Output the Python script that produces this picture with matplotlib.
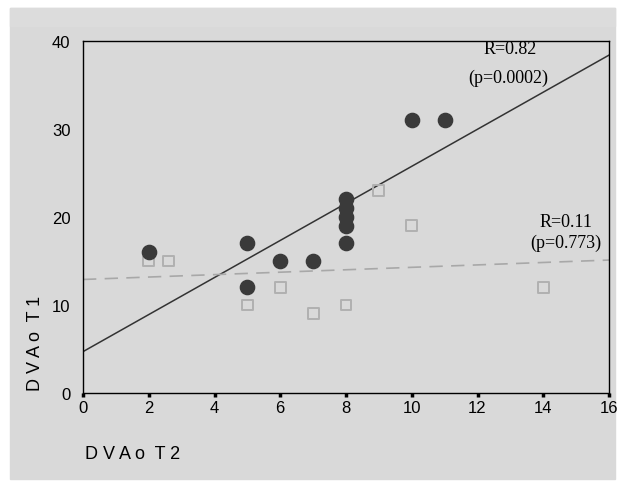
import matplotlib.pyplot as plt
from matplotlib.patches import Rectangle
import numpy as np

# filled circles
circ_x = [2, 5, 5, 6, 7, 8, 8, 8, 8, 8, 10, 11]
circ_y = [16, 17, 12, 15, 15, 22, 21, 20, 19, 17, 31, 31]
# open squares
sq_x = [2, 2.6, 5, 6, 7, 8, 9, 10, 14]
sq_y = [15, 15, 10, 12, 9, 10, 23, 19, 12]

# regression lines
solid_b, solid_a = 4.7, 2.106
dash_b, dash_a = 12.9, 0.138

xticks = [0, 2, 4, 6, 8, 10, 12, 14, 16]
yticks = [0, 10, 20, 30, 40]

bg = '#d9d9d9'
narrow = ['Liberation Sans Narrow', 'Liberation Sans', 'DejaVu Sans']
serif = ['Liberation Serif', 'DejaVu Serif']

fig = plt.figure(figsize=(6.21, 4.89), dpi=100)
fig.patches.append(Rectangle((10/621, 9/489), 605/621, 471/489,
                             transform=fig.transFigure, color=bg, zorder=-5))
fig.patches.append(Rectangle((10/621, 462/489), 605/621, 18/489,
                             transform=fig.transFigure, color='#dcdcdc', zorder=-4))
ax = fig.add_axes([83/621, 95/489, 526/621, 352/489])
ax.set_facecolor(bg)

xx = np.array([0, 16])
ax.plot(xx, solid_b + solid_a*xx, color='#333333', lw=1.1, zorder=2)
ax.plot(xx, dash_b + dash_a*xx, color='#a8a8a8', lw=1.2, ls=(0, (8, 5)), zorder=2)

ax.scatter(sq_x, sq_y, marker='s', s=62, facecolor='none', edgecolor='#b0b0b0',
           linewidth=1.4, zorder=3)
ax.scatter(circ_x, circ_y, marker='o', s=105, color='#3a3a3a', zorder=4)

ax.set_xlim(0, 16)
ax.set_ylim(0, 40)
ax.set_xticks(xticks)
ax.set_yticks(yticks)
ax.tick_params(axis='x', direction='out', length=3, width=2.5, pad=2,
               labelsize=12)
ax.tick_params(axis='y', length=0, pad=9, labelsize=12)
for lab in ax.get_xticklabels() + ax.get_yticklabels():
    lab.set_family(narrow)
for s in ax.spines.values():
    s.set_linewidth(1.0)
    s.set_color('black')

ax.text(13.0, 39.2, 'R=0.82', family=serif, fontsize=13, ha='center', va='center')
ax.text(12.95, 35.9, '(p=0.0002)', family=serif, fontsize=13, ha='center', va='center')
ax.text(14.7, 19.5, 'R=0.11', family=serif, fontsize=13, ha='center', va='center')
ax.text(14.7, 17.1, '(p=0.773)', family=serif, fontsize=13, ha='center', va='center')

fig.text(35/621, 1 - 343/489, 'D V A o  T 1', family=narrow, fontsize=13,
         rotation=90, ha='center', va='center')
fig.text(85/621, 1 - 455/489, 'D V A o  T 2', family=narrow, fontsize=13,
         ha='left', va='center')

fig.savefig('out.png', dpi=100)
